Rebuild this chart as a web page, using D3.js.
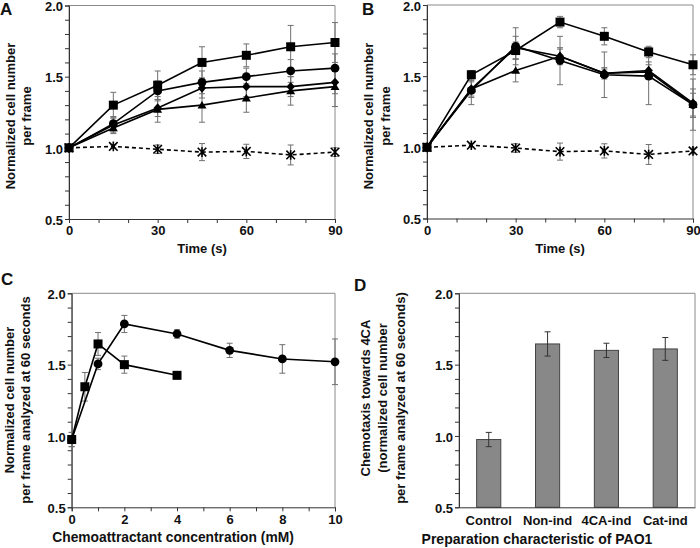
<!DOCTYPE html>
<html><head><meta charset="utf-8">
<script src="https://cdn.jsdelivr.net/npm/d3@7"></script>
<style>
html,body{margin:0;padding:0;background:#fff;}
svg text{font-family:"Liberation Sans",Arial,sans-serif;font-weight:bold;fill:#111;}
</style></head>
<body>
<svg id="chart" width="700" height="548"></svg>
<script>
// ---------- DATA ----------
const timeS = [0, 15, 30, 45, 60, 75, 90];
const timeTickLabels = [0, 30, 60, 90];

// Panel A
const aSquare   = [1.00, 1.30, 1.44, 1.60, 1.65, 1.71, 1.74];
const aSquareE  = [0, 0.09, 0.10, 0.11, 0.08, 0.15, 0.14];
const aCircle   = [1.00, 1.17, 1.40, 1.46, 1.50, 1.54, 1.56];
const aCircleE  = [0, 0.05, 0.07, 0.08, 0.06, 0.08, 0.10];
const aDiamond  = [1.00, 1.16, 1.28, 1.42, 1.43, 1.43, 1.46];
const aDiamondE = [0, 0.05, 0.06, 0.07, 0.07, 0.07, 0.08];
const aTriangle = [1.00, 1.14, 1.27, 1.30, 1.35, 1.40, 1.43];
const aTriangleE= [0, 0.04, 0.09, 0.12, 0.10, 0.10, 0.14];
const aStar     = [1.00, 1.01, 0.99, 0.97, 0.975, 0.95, 0.97];
const aStarE    = [0, 0.01, 0.03, 0.06, 0.05, 0.07, 0.03];

// Panel B
const bSquare   = [1.00, 1.51, 1.68, 1.88, 1.78, 1.67, 1.58];
const bSquareE  = [0, 0.03, 0.06, 0.04, 0.06, 0.04, 0.07];
const bCircle   = [1.00, 1.40, 1.71, 1.61, 1.51, 1.50, 1.30];
const bCircleE  = [0, 0.10, 0.13, 0.17, 0.16, 0.20, 0.18];
const bDiamond  = [1.00, 1.41, 1.70, 1.64, 1.52, 1.54, 1.31];
const bDiamondE = [0, 0.06, 0.08, 0.06, 0.04, 0.06, 0.10];
const bTriangle = [1.00, 1.41, 1.54, 1.64, 1.52, 1.53, 1.30];
const bTriangleE= [0, 0.05, 0.08, 0.05, 0.03, 0.05, 0.08];
const bStar     = [1.00, 1.015, 0.995, 0.97, 0.975, 0.95, 0.975];
const bStarE    = [0, 0.01, 0.03, 0.06, 0.05, 0.07, 0.02];

// Panel C
const cCircleX  = [0, 1, 2, 4, 6, 8, 10];
const cCircle   = [0.975, 1.505, 1.785, 1.715, 1.60, 1.54, 1.52];
const cCircleE  = [0.05, 0.04, 0.06, 0.03, 0.05, 0.10, 0.16];
const cSquareX  = [0, 0.5, 1, 2, 4];
const cSquare   = [0.975, 1.345, 1.645, 1.50, 1.425];
const cSquareE  = [0.05, 0.10, 0.08, 0.06, 0.025];
const concTickLabels = [0, 2, 4, 6, 8, 10];

// Panel D
const dCategories = ["Control", "Non-ind", "4CA-ind", "Cat-ind"];
const dValues = [0.975, 1.645, 1.60, 1.61];
const dErrors = [0.05, 0.085, 0.05, 0.08];

const yTickLabels = [0.5, 1.0, 1.5, 2.0];

// ---------- DRAW ----------
const svg = d3.select("#chart");
const AXIS = "#333", BORDER = "#8a8a8a", ERR = "#707070";

function markerPath(shape, s) {
  switch (shape) {
    case "square": return `M${-s},${-s}h${2*s}v${2*s}h${-2*s}Z`;
    case "diamond": return `M0,${-s-0.5}L${s},0L0,${s+0.5}L${-s},0Z`;
    case "triangle": return `M0,${-s}L${s+0.3},${s*0.8}L${-s-0.3},${s*0.8}Z`;
    case "star": return `M${-s},${-s}L${s},${s}M${-s},${s}L${s},${-s}M0,${-s-0.5}L0,${s+0.5}`;
  }
}

function frame(g, x0, x1, y0, y1) {
  g.append("path").attr("d", `M${x0},${y1}V${y0}H${x1}V${y1}`)
    .attr("fill", "none").attr("stroke", BORDER).attr("stroke-width", 1);
}

function yAxis(g, y, xPos) {
  const ax = d3.axisLeft(y)
    .tickValues(d3.range(5, 21).map(v => v / 10))
    .tickSize(4).tickPadding(2)
    .tickFormat(d => yTickLabels.some(v => Math.abs(v - d) < 1e-6) ? d3.format(".1f")(d) : "");
  const a = g.append("g").attr("transform", `translate(${xPos},0)`).call(ax);
  a.select(".domain").attr("stroke", AXIS);
  a.selectAll(".tick line").attr("stroke", AXIS);
  a.selectAll("text").attr("font-size", 13).attr("dy", "0.4em").style("fill", "#111");
}

function linePanel(opts) {
  const g = svg.append("g");
  const x = d3.scaleLinear().domain(opts.xDomain).range(opts.xRange);
  const y = d3.scaleLinear().domain([0.5, 2.0]).range(opts.yRange);
  frame(g, opts.xRange[0], opts.xRange[1], opts.yRange[1], opts.yRange[0]);
  const xa = d3.axisBottom(x).tickValues(opts.xTicks).tickSize(4).tickPadding(3)
    .tickFormat(d => opts.xLabels.includes(d) ? d : "");
  const xg = g.append("g").attr("transform", `translate(0,${opts.yRange[0]})`).call(xa);
  xg.select(".domain").attr("stroke", AXIS);
  xg.selectAll(".tick line").attr("stroke", AXIS);
  xg.selectAll("text").attr("font-size", 13).style("fill", "#111");
  yAxis(g, y, opts.xRange[0]);

  // error bars
  opts.series.forEach(s => {
    const eg = g.append("g");
    s.xs.forEach((xv, i) => {
      const e = s.err[i];
      if (!e) return;
      const cx = x(xv), t = y(s.ys[i] + e), b = y(s.ys[i] - e);
      eg.append("path")
        .attr("d", `M${cx},${t}V${b}M${cx-3},${t}H${cx+3}M${cx-3},${b}H${cx+3}`)
        .attr("stroke", ERR).attr("stroke-width", 1).attr("fill", "none");
    });
  });
  // lines
  opts.series.forEach(s => {
    const line = d3.line().x((d, i) => x(s.xs[i])).y(d => y(d));
    g.append("path").datum(s.ys).attr("d", line)
      .attr("fill", "none").attr("stroke", "#000").attr("stroke-width", 1.6)
      .attr("stroke-dasharray", s.dashed ? "4,3" : null);
  });
  // markers
  opts.series.forEach(s => {
    s.ys.forEach((v, i) => {
      const cx = x(s.xs[i]), cy = y(v);
      if (s.shape === "circle") {
        g.append("circle").attr("cx", cx).attr("cy", cy).attr("r", 4.4).attr("fill", "#000");
      } else if (s.shape === "star") {
        g.append("path").attr("transform", `translate(${cx},${cy})`).attr("d", markerPath("star", 4.3))
          .attr("stroke", "#000").attr("stroke-width", 1.6).attr("fill", "none");
      } else {
        g.append("path").attr("transform", `translate(${cx},${cy})`)
          .attr("d", markerPath(s.shape, s.shape === "square" ? 4.5 : 4.2)).attr("fill", "#000");
      }
    });
  });
  // titles
  opts.yTitle.forEach((t, i) => {
    g.append("text").attr("transform", `translate(${opts.yTitleX[i]},${opts.titleY}) rotate(-90)`)
      .attr("text-anchor", "middle").attr("font-size", 13).text(t);
  });
  g.append("text").attr("x", opts.xTitlePos[0]).attr("y", opts.xTitlePos[1])
    .attr("text-anchor", "middle").attr("font-size", opts.xTitleSize).text(opts.xTitle);
  g.append("text").attr("x", opts.letterPos[0]).attr("y", opts.letterPos[1])
    .attr("font-size", 17).text(opts.letter);
}

function timeSeries(sq, sqE, ci, ciE, di, diE, tr, trE, st, stE) {
  return [
    {xs: timeS, ys: st, err: stE, shape: "star", dashed: true},
    {xs: timeS, ys: tr, err: trE, shape: "triangle"},
    {xs: timeS, ys: di, err: diE, shape: "diamond"},
    {xs: timeS, ys: ci, err: ciE, shape: "circle"},
    {xs: timeS, ys: sq, err: sqE, shape: "square"}
  ];
}

linePanel({
  letter: "A", letterPos: [0, 15],
  xDomain: [0, 90], xRange: [69, 335], yRange: [219, 5.5],
  xTicks: d3.range(0, 91, 10), xLabels: timeTickLabels,
  series: timeSeries(aSquare, aSquareE, aCircle, aCircleE, aDiamond, aDiamondE, aTriangle, aTriangleE, aStar, aStarE),
  yTitle: ["Normalized cell number", "per frame"], yTitleX: [14.5, 30.5], titleY: 116,
  xTitle: "Time (s)", xTitlePos: [202, 253], xTitleSize: 13
});

linePanel({
  letter: "B", letterPos: [362, 15],
  xDomain: [0, 90], xRange: [427, 693], yRange: [218.5, 5],
  xTicks: d3.range(0, 91, 10), xLabels: timeTickLabels,
  series: timeSeries(bSquare, bSquareE, bCircle, bCircleE, bDiamond, bDiamondE, bTriangle, bTriangleE, bStar, bStarE),
  yTitle: ["Normalized cell number", "per frame"], yTitleX: [373, 390], titleY: 116,
  xTitle: "Time (s)", xTitlePos: [560, 253], xTitleSize: 13
});

linePanel({
  letter: "C", letterPos: [1, 285],
  xDomain: [0, 10], xRange: [71.7, 335], yRange: [507.3, 293.3],
  xTicks: d3.range(0, 11, 1), xLabels: concTickLabels,
  series: [
    {xs: cCircleX, ys: cCircle, err: cCircleE, shape: "circle"},
    {xs: cSquareX, ys: cSquare, err: cSquareE, shape: "square"}
  ],
  yTitle: ["Normalized cell number", "per frame analyzed at 60 seconds"], yTitleX: [14, 30], titleY: 400,
  xTitle: "Chemoattractant concentration (mM)", xTitlePos: [173, 542], xTitleSize: 13.8
});

// Panel D (bars)
(function () {
  const g = svg.append("g");
  const x = d3.scaleBand().domain(dCategories).range([459, 695]).paddingInner(0.59).paddingOuter(0.3);
  const y = d3.scaleLinear().domain([0.5, 2.0]).range([507.3, 293.3]);
  frame(g, 459, 695, 293.3, 507.3);
  g.append("g").selectAll("rect").data(dValues).join("rect")
    .attr("x", (d, i) => x(dCategories[i])).attr("width", x.bandwidth())
    .attr("y", d => y(d)).attr("height", d => y(0.5) - y(d))
    .attr("fill", "#888888").attr("stroke", "#444").attr("stroke-width", 1);
  dValues.forEach((v, i) => {
    const cx = x(dCategories[i]) + x.bandwidth() / 2, t = y(v + dErrors[i]), b = y(v - dErrors[i]);
    g.append("path").attr("d", `M${cx},${t}V${b}M${cx-3},${t}H${cx+3}M${cx-3},${b}H${cx+3}`)
      .attr("stroke", "#333").attr("stroke-width", 1).attr("fill", "none");
  });
  const xa = d3.axisBottom(x).tickSize(0).tickPadding(8);
  const xg = g.append("g").attr("transform", "translate(0,507.3)").call(xa);
  xg.select(".domain").attr("stroke", AXIS);
  xg.selectAll("text").attr("font-size", 13).style("fill", "#111");
  yAxis(g, y, 459);
  const titles = ["Chemotaxis towards 4CA", "(normalized cell number", "per frame analyzed at 60 seconds)"];
  const tx = [369.5, 387, 404.5];
  titles.forEach((t, i) => {
    g.append("text").attr("transform", `translate(${tx[i]},398) rotate(-90)`)
      .attr("text-anchor", "middle").attr("font-size", 13).text(t);
  });
  g.append("text").attr("x", 537).attr("y", 544).attr("text-anchor", "middle")
    .attr("font-size", 14).text("Preparation characteristic of PAO1");
  g.append("text").attr("x", 354).attr("y", 291).attr("font-size", 17).text("D");
})();
</script>
</body></html>
